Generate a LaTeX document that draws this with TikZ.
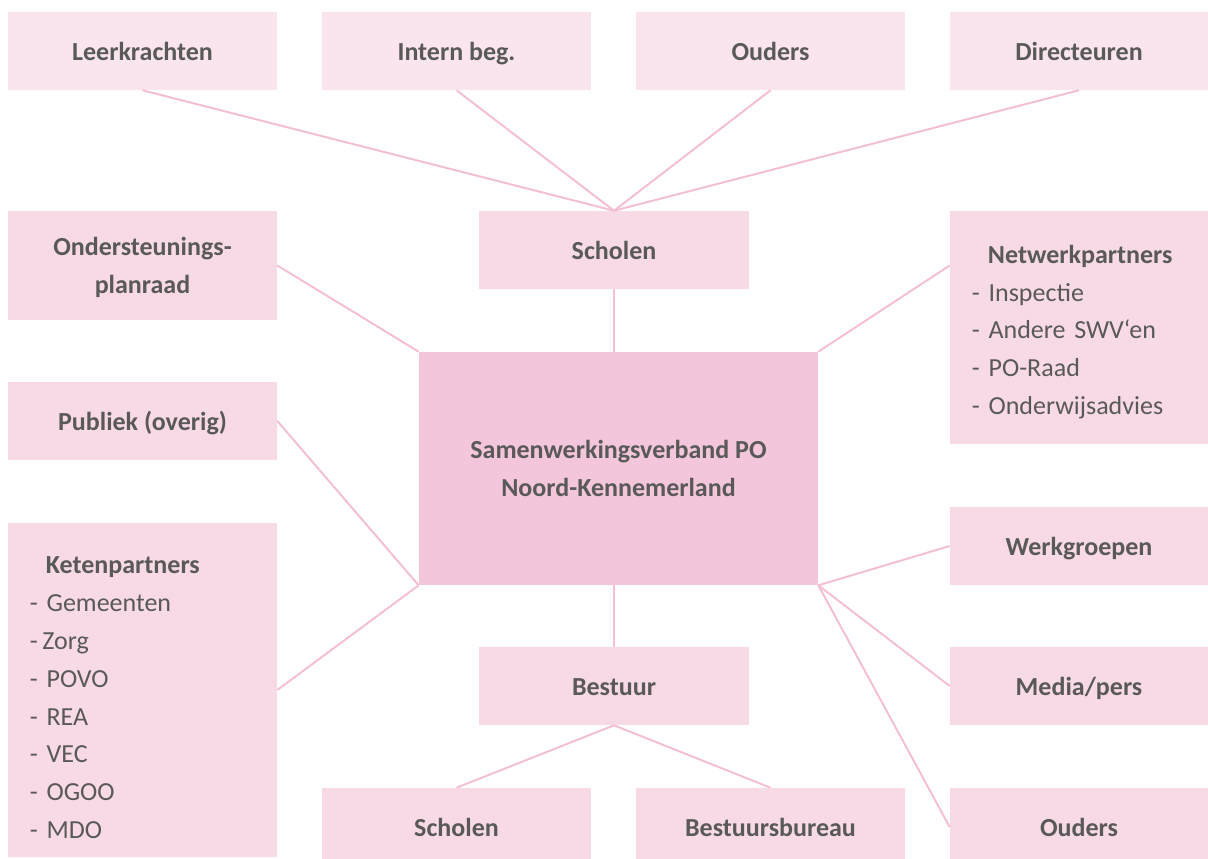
\documentclass[tikz,border=0pt]{standalone}
\usepackage{fontspec}
\setmainfont{Carlito}
\usepackage{tikz}
\usepackage{xcolor}
\usetikzlibrary{positioning}
\definecolor{cTop}{RGB}{250,228,238}
\definecolor{cBox}{RGB}{248,218,230}
\definecolor{cHub}{RGB}{244,198,219}
\definecolor{cLine}{RGB}{244,190,212}
\definecolor{cText}{RGB}{89,89,89}
\newcommand{\boxsize}{\fontsize{18.5}{26.9}\selectfont}
\tikzset{
	tallbox/.style ={rectangle, minimum width=6.725cm, minimum height=1.95cm, align=center, fill=cBox, text=cText, font=\boxsize\bfseries, inner sep=0pt},
	box/.style     ={tallbox, text height=14pt, text depth=0.6pt},
	topbox/.style  ={box, fill=cTop},
	listbox/.style ={rectangle, align=left, fill=cBox, text=cText, font=\boxsize, inner xsep=0.55cm, inner ysep=0pt},
	hub/.style     ={rectangle, minimum width=9.975cm, minimum height=5.825cm, align=center, fill=cHub, text=cText, font=\boxsize\bfseries, inner sep=0pt},
	link/.style    ={draw=cLine, line width=1.4pt},
}
\newcommand{\listhead}[2]{\rule{0pt}{#1}\hspace*{0.4cm}\textbf{#2}}

\begin{document}
\begin{tikzpicture}[x=0.025cm, y=-0.025cm]
	\useasboundingbox (0,0) rectangle (1208,859);
	% top row
	\node[topbox] (leer)   at (142.5,51) {Leerkrachten};
	\node[topbox] (intern) at (456.5,51) {Intern beg.};
	\node[topbox] (ouderT) at (770.5,51) {Ouders};
	\node[topbox, minimum width=6.45cm] (direct) at (1079,51) {Directeuren};
	% middle
	\node[box] (scholen) at (614,250) {Scholen};
	\node[tallbox, minimum height=2.725cm] (onder) at (142.5,265.5) {\rule{0pt}{16pt}Ondersteunings-\\planraad};
	\node[box] (publiek) at (142.5,421) {Publiek (overig)};
	\node[hub] (swv) at (618.5,468.5) {Samenwerkingsverband PO\\Noord-Kennemerland};
	\node[listbox, text width=5.35cm, minimum height=5.825cm] (netwerk) at (1079,327.5)
		{\listhead{0.68cm}{Netwerkpartners}\\- Inspectie\\- Andere SWV‘en\\- PO-Raad\\- Onderwijsadvies};
	\node[listbox, text width=5.625cm, minimum height=8.35cm] (keten) at (142.5,690)
		{\listhead{0.81cm}{Ketenpartners}\\- Gemeenten\\-\,Zorg\\- POVO\\- REA\\- VEC\\- OGOO\\- MDO};
	\node[box, minimum width=6.45cm] (werk)  at (1079,546) {Werkgroepen};
	\node[box, minimum width=6.45cm] (media) at (1079,686) {Media/pers};
	% bottom (cut off by the page edge)
	\node[box] (bestuur) at (614,686) {Bestuur};
	\node[box] (scholenB) at (456.5,827) {Scholen};
	\node[box] (bureau)   at (770.5,827) {Bestuursbureau};
	\node[box, minimum width=6.45cm] (ouderB) at (1079,827) {Ouders};

	\draw[link] (leer.south) -- (scholen.north);
	\draw[link] (intern.south) -- (scholen.north);
	\draw[link] (ouderT.south) -- (scholen.north);
	\draw[link] (direct.south) -- (scholen.north);
	\draw[link] (scholen.south) -- (scholen.south |- swv.north);
	\draw[link] (onder.east) -- (swv.north west);
	\draw[link] (netwerk.west |- onder.east) -- (swv.north east);
	\draw[link] (publiek.east) -- (swv.south west);
	\draw[link] (keten.east) -- (swv.south west);
	\draw[link] (werk.west) -- (swv.south east);
	\draw[link] (media.west) -- (swv.south east);
	\draw[link] (ouderB.west) -- (swv.south east);
	\draw[link] (bestuur.north |- swv.south) -- (bestuur.north);
	\draw[link] (bestuur.south) -- (scholenB.north);
	\draw[link] (bestuur.south) -- (bureau.north);
\end{tikzpicture}
\end{document}
